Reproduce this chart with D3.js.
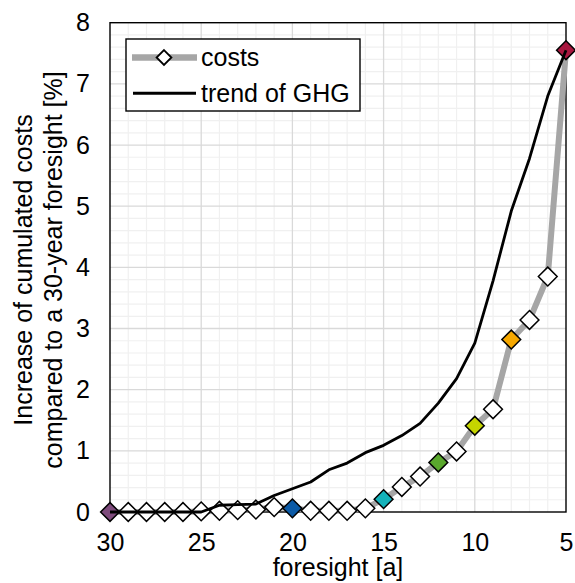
<!DOCTYPE html>
<html>
<head>
<meta charset="utf-8">
<script src="https://cdn.jsdelivr.net/npm/d3@7"></script>
<style>
  body { margin: 0; background: #fff; }
  svg { display: block; font-family: 'Liberation Sans', Arial, sans-serif; }
</style>
</head>
<body>
<svg id="chart" width="575" height="583"></svg>
<script>
// foresight in years, from 30 down to 5
const years = d3.range(30, 4, -1);

// increase of cumulated costs [%]
const costs = [0, 0, 0, 0, 0, 0.01, 0.02, 0.03, 0.04, 0.08, 0.06, 0.02, 0.02,
  0.02, 0.06, 0.21, 0.41, 0.58, 0.81, 0.99, 1.41, 1.68, 2.82, 3.14, 3.85, 7.55];

// trend of GHG (same scale)
const ghgTrend = [0, 0, 0, 0, 0, 0, 0.11, 0.12, 0.13, 0.27, 0.38, 0.49, 0.69,
  0.8, 0.97, 1.09, 1.25, 1.45, 1.78, 2.18, 2.76, 3.78, 4.92, 5.78, 6.8, 7.55];

// coloured markers
const highlightYears = [30, 20, 15, 12, 10, 8, 5];
const highlightColors = ['#7e4b7c', '#0b5aa6', '#14b2ba', '#5aa82d', '#c5d500', '#f6a800', '#a8173f'];

const xTicks = [30, 25, 20, 15, 10, 5];
const yTicks = [0, 1, 2, 3, 4, 5, 6, 7, 8];

const svg = d3.select('#chart');
const margin = { left: 110, right: 566, top: 22.7, bottom: 512 };
const fontSize = '25px';

const x = d3.scaleLinear().domain([30, 5]).range([margin.left, margin.right]);
const y = d3.scaleLinear().domain([0, 8]).range([margin.bottom, margin.top]);

// grid: minor then major
const grid = svg.append('g');
grid.selectAll('.vminor')
  .data(d3.range(29, 5, -1).filter((d) => d % 5 !== 0))
  .join('line')
  .attr('x1', (d) => x(d)).attr('x2', (d) => x(d))
  .attr('y1', margin.top).attr('y2', margin.bottom)
  .attr('stroke', '#f0f0f0').attr('stroke-width', 1.2);
grid.selectAll('.hminor')
  .data(d3.range(1, 40).filter((d) => d % 5 !== 0).map((d) => d / 5))
  .join('line')
  .attr('x1', margin.left).attr('x2', margin.right)
  .attr('y1', (d) => y(d)).attr('y2', (d) => y(d))
  .attr('stroke', '#f0f0f0').attr('stroke-width', 1.2);
grid.selectAll('.vmajor')
  .data(xTicks.slice(1, -1))
  .join('line')
  .attr('x1', (d) => x(d)).attr('x2', (d) => x(d))
  .attr('y1', margin.top).attr('y2', margin.bottom)
  .attr('stroke', '#d9d9d9').attr('stroke-width', 1.3);
grid.selectAll('.hmajor')
  .data(yTicks.slice(1, -1))
  .join('line')
  .attr('x1', margin.left).attr('x2', margin.right)
  .attr('y1', (d) => y(d)).attr('y2', (d) => y(d))
  .attr('stroke', '#d9d9d9').attr('stroke-width', 1.3);

// frame
svg.append('rect')
  .attr('x', margin.left).attr('y', margin.top)
  .attr('width', margin.right - margin.left)
  .attr('height', margin.bottom - margin.top)
  .attr('fill', 'none').attr('stroke', '#000').attr('stroke-width', 1.4);

// axes (labels only)
const xAxis = svg.append('g')
  .attr('transform', `translate(0,${margin.bottom})`)
  .call(d3.axisBottom(x).tickValues(xTicks).tickSize(0).tickPadding(21));
const yAxis = svg.append('g')
  .attr('transform', `translate(${margin.left},0)`)
  .call(d3.axisLeft(y).tickValues(yTicks).tickSize(0).tickPadding(20));
[xAxis, yAxis].forEach((axis) => {
  axis.select('.domain').remove();
  axis.selectAll('text')
    .attr('fill', '#000')
    .style('font-size', fontSize)
    .style('font-family', "'Liberation Sans', Arial, sans-serif");
});

// axis titles
svg.append('text')
  .attr('x', (margin.left + margin.right) / 2)
  .attr('y', 576)
  .attr('text-anchor', 'middle')
  .style('font-size', fontSize)
  .text('foresight [a]');

const yTitle = svg.append('text')
  .attr('transform', 'translate(0,270) rotate(-90)')
  .attr('text-anchor', 'middle')
  .style('font-size', fontSize);
yTitle.append('tspan').attr('x', 0).attr('y', 32).text('Increase of cumulated costs');
yTitle.append('tspan').attr('x', 0).attr('y', 62).text('compared to a 30-year foresight [%]');

// data
const costData = years.map((yr, i) => ({ year: yr, value: costs[i] }));
const ghgData = years.map((yr, i) => ({ year: yr, value: ghgTrend[i] }));

const line = d3.line().x((d) => x(d.year)).y((d) => y(d.value));
const diamond = d3.symbol().type(d3.symbolDiamond2).size(225);
const markerColor = (yr) => {
  const i = highlightYears.indexOf(yr);
  return i >= 0 ? highlightColors[i] : '#fff';
};

svg.append('path')
  .datum(costData)
  .attr('d', line)
  .attr('fill', 'none')
  .attr('stroke', '#a6a6a6')
  .attr('stroke-width', 6)
  .attr('stroke-linejoin', 'round');

svg.selectAll('.cost-marker')
  .data(costData)
  .join('path')
  .attr('class', 'cost-marker')
  .attr('d', diamond)
  .attr('transform', (d) => `translate(${x(d.year)},${y(d.value)})`)
  .attr('fill', (d) => markerColor(d.year))
  .attr('stroke', '#000')
  .attr('stroke-width', 1.5);

svg.append('path')
  .datum(ghgData)
  .attr('d', line)
  .attr('fill', 'none')
  .attr('stroke', '#000')
  .attr('stroke-width', 2.8)
  .attr('stroke-linejoin', 'round');

// legend
const legend = svg.append('g');
legend.append('rect')
  .attr('x', 126).attr('y', 39).attr('width', 234).attr('height', 72)
  .attr('fill', '#fff').attr('stroke', '#000').attr('stroke-width', 1.4);
legend.append('line')
  .attr('x1', 132).attr('x2', 197).attr('y1', 57.5).attr('y2', 57.5)
  .attr('stroke', '#a6a6a6').attr('stroke-width', 6.5);
legend.append('path')
  .attr('d', d3.symbol().type(d3.symbolDiamond2).size(140))
  .attr('transform', 'translate(164,57.5)')
  .attr('fill', '#fff').attr('stroke', '#000').attr('stroke-width', 1.8);
legend.append('line')
  .attr('x1', 133).attr('x2', 196).attr('y1', 93.3).attr('y2', 93.3)
  .attr('stroke', '#000').attr('stroke-width', 3);
legend.append('text').attr('x', 201).attr('y', 66).style('font-size', fontSize).text('costs');
legend.append('text').attr('x', 201).attr('y', 102).style('font-size', fontSize).text('trend of GHG');
</script>
</body>
</html>
